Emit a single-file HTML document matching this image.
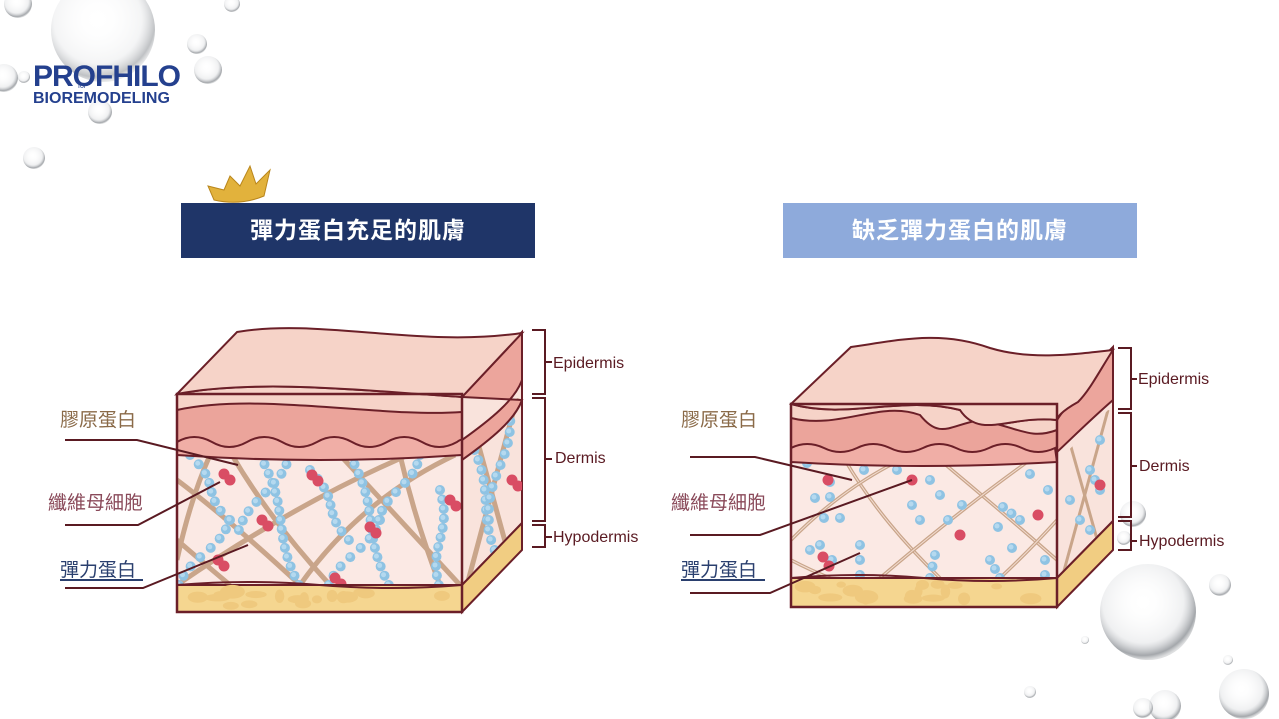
<!DOCTYPE html>
<html><head><meta charset="utf-8"><style>
html,body{margin:0;padding:0;background:#fff;}
body{width:1279px;height:719px;overflow:hidden;position:relative;font-family:"Liberation Sans","Noto Sans CJK TC",sans-serif;}
.t{position:absolute;white-space:nowrap;}
</style></head><body>
<svg id="s" width="1279" height="719" viewBox="0 0 1279 719" xmlns="http://www.w3.org/2000/svg" style="position:absolute;left:0;top:0">
<defs>
<radialGradient id="bub" cx="0.45" cy="0.4" r="0.6">
<stop offset="0" stop-color="#ffffff" stop-opacity="0"/><stop offset="0.7" stop-color="#d8dadd" stop-opacity="0.4"/><stop offset="0.92" stop-color="#8d9196" stop-opacity="0.8"/><stop offset="1" stop-color="#c8cacc" stop-opacity="0.6"/></radialGradient>
</defs>
<g id="bubbles">
<circle cx="103" cy="30" r="52" fill="url(#bub)" opacity="0.7"/>
<circle cx="18" cy="4" r="14" fill="url(#bub)"/>
<circle cx="197" cy="44" r="10" fill="url(#bub)"/>
<circle cx="208" cy="70" r="14" fill="url(#bub)"/>
<circle cx="232" cy="4" r="8" fill="url(#bub)"/>
<circle cx="4" cy="78" r="14" fill="url(#bub)"/>
<circle cx="24" cy="77" r="6" fill="url(#bub)"/>
<circle cx="100" cy="112" r="12" fill="url(#bub)"/>
<circle cx="34" cy="158" r="11" fill="url(#bub)"/>
<circle cx="1148" cy="612" r="48" fill="url(#bub)"/>
<circle cx="1133" cy="514" r="13" fill="url(#bub)"/>
<circle cx="1124" cy="538" r="7" fill="url(#bub)"/>
<circle cx="1220" cy="585" r="11" fill="url(#bub)"/>
<circle cx="1244" cy="694" r="25" fill="url(#bub)"/>
<circle cx="1165" cy="706" r="16" fill="url(#bub)"/>
<circle cx="1143" cy="708" r="10" fill="url(#bub)"/>
<circle cx="1030" cy="692" r="6" fill="url(#bub)"/>
<circle cx="1085" cy="640" r="4" fill="url(#bub)"/>
<circle cx="1228" cy="660" r="5" fill="url(#bub)"/>
</g>
<!-- crown -->
<g fill="#e2b23c" stroke="#b9861c" stroke-width="1">
<path d="M208,186 L224,190 L230,176 L240,186 L250,166 L256,184 L270,170 L264,196 Q240,206 214,200 Z"/>
</g>
<rect x="181" y="203" width="354" height="55" fill="#1f3568"/>
<rect x="783" y="203" width="354" height="55" fill="#8eaadb"/>
<g id="blocks"></g>
<g stroke="#5a1a22" stroke-width="2" fill="none">
<polyline points="65,440 137,440 238,465"/>
<polyline points="65,525 138,525 220,482"/>
<polyline points="65,588 143,588 248,545"/>
<polyline points="690,457 755,457 852,480"/>
<polyline points="690,535 760,535 912,480"/>
<polyline points="690,593 770,593 860,553"/>
<polyline points="532,330 545,330 545,394 532,394"/>
<polyline points="532,398 545,398 545,521 532,521"/>
<polyline points="532,525 545,525 545,547 532,547"/>
<line x1="545" y1="362" x2="552" y2="362"/><line x1="545" y1="459" x2="552" y2="459"/><line x1="545" y1="537" x2="552" y2="537"/>
<polyline points="1118,348 1131,348 1131,409 1118,409"/>
<polyline points="1118,413 1131,413 1131,517 1118,517"/>
<polyline points="1118,521 1131,521 1131,550 1118,550"/>
<line x1="1131" y1="379" x2="1137" y2="379"/><line x1="1131" y1="466" x2="1137" y2="466"/><line x1="1131" y1="541" x2="1137" y2="541"/>
</g>
<line x1="60" y1="580" x2="143" y2="580" stroke="#2a3f6e" stroke-width="2"/>
<line x1="681" y1="580" x2="765" y2="580" stroke="#2a3f6e" stroke-width="2"/>
</svg>

<div class="t" style="left:33px;top:60px;font-size:30px;font-weight:bold;color:#24408e;letter-spacing:-1px;">PROFHILO</div>
<div class="t" style="left:78px;top:83px;font-size:7px;color:#24408e;">for</div>
<div class="t" style="left:33px;top:90px;font-size:16px;font-weight:bold;color:#24408e;">BIOREMODELING</div>

<div class="t" style="left:181px;top:203px;width:354px;line-height:55px;text-align:center;color:#fff;font-size:23px;font-weight:bold;letter-spacing:1px;">彈力蛋白充足的肌膚</div>
<div class="t" style="left:783px;top:203px;width:354px;line-height:55px;text-align:center;color:#fff;font-size:23px;font-weight:bold;letter-spacing:1px;">缺乏彈力蛋白的肌膚</div>

<div class="t" style="left:60px;top:405px;font-size:19px;color:#8a6a48;">膠原蛋白</div>
<div class="t" style="left:48px;top:488px;font-size:19px;color:#8a4a5a;">纖維母細胞</div>
<div class="t" style="left:60px;top:555px;font-size:19px;color:#2a3f6e;">彈力蛋白</div>
<div class="t" style="left:681px;top:405px;font-size:19px;color:#8a6a48;">膠原蛋白</div>
<div class="t" style="left:671px;top:488px;font-size:19px;color:#8a4a5a;">纖維母細胞</div>
<div class="t" style="left:681px;top:555px;font-size:19px;color:#2a3f6e;">彈力蛋白</div>

<div class="t" style="left:553px;top:355px;font-size:16px;color:#5a1a22;">Epidermis</div>
<div class="t" style="left:555px;top:450px;font-size:16px;color:#5a1a22;">Dermis</div>
<div class="t" style="left:553px;top:529px;font-size:16px;color:#5a1a22;">Hypodermis</div>
<div class="t" style="left:1138px;top:371px;font-size:16px;color:#5a1a22;">Epidermis</div>
<div class="t" style="left:1139px;top:458px;font-size:16px;color:#5a1a22;">Dermis</div>
<div class="t" style="left:1139px;top:533px;font-size:16px;color:#5a1a22;">Hypodermis</div>

<script>
var NS="http://www.w3.org/2000/svg";
var G=document.getElementById("blocks");
function el(t,a,p){var e=document.createElementNS(NS,t);for(var k in a)e.setAttribute(k,a[k]);(p||G).appendChild(e);return e;}
var seed=7;function rnd(){seed=(seed*9301+49297)%233280;return seed/233280;}
function block(o,id){
 var L=o.L,R=o.R,T=o.T,B=o.B,H=o.H,dx=o.dx,dy=o.dy,W=o.W;
 var st="#6b1f28";
 var defs=el("defs",{});
 var cp=el("clipPath",{id:"c"+id},defs);
 el("rect",{x:L,y:W-10,width:R-L,height:H-W+10},cp);
 var cp2=el("clipPath",{id:"d"+id},defs);
 el("polygon",{points:[R,W,R+dx,W+dy,R+dx,H+dy,R,H].join(" ")},cp2);
 el("polygon",{points:[R,T,R+dx,T+dy,R+dx,H+dy,R,H].join(" "),fill:"#f9e3dc",stroke:st,"stroke-width":2});
 el("rect",{x:L,y:W,width:R-L,height:H-W,fill:"#fbe9e4"});
 var g=el("g",{"clip-path":"url(#c"+id+")"});
 var g2=el("g",{"clip-path":"url(#d"+id+")"});
 o.fibers.forEach(function(f){
  el("path",{d:"M"+f[0]+","+f[1]+" Q"+f[4]+","+f[5]+" "+f[2]+","+f[3],stroke:"#c9a58a","stroke-width":o.dense?5:3.5,fill:"none"},g);
  if(!o.dense)el("path",{d:"M"+f[0]+","+f[1]+" Q"+f[4]+","+f[5]+" "+f[2]+","+f[3],stroke:"#f3ddd2","stroke-width":1,fill:"none"},g);
 });
 [[R+5,W+dy+10,R+dx-5,H],[R+dx-5,W+dy+5,R+5,H]].forEach(function(f){
  el("line",{x1:f[0],y1:f[1],x2:f[2],y2:f[3],stroke:"#c9a58a","stroke-width":o.dense?5:3},g2);
 });
 o.chains.forEach(function(c){
  var n=c[4];for(var i=0;i<=n;i++){var t=n?i/n:0;var x=c[0]+(c[2]-c[0])*t+Math.sin(t*6)*(o.dense?4:0),y=c[1]+(c[3]-c[1])*t;
   el("circle",{cx:x,cy:y,r:5,fill:"#8fc3e3"},c[5]?g2:g);el("circle",{cx:x-1,cy:y-1,r:2.5,fill:"#b5d9ef"},c[5]?g2:g);}
 });
 o.reds.forEach(function(p){
  el("circle",{cx:p[0],cy:p[1],r:5.5,fill:"#d94d64"},p[2]?g2:g);
  if(o.dense)el("circle",{cx:p[0]+6,cy:p[1]+6,r:5.5,fill:"#d94d64"},p[2]?g2:g);
 });
 el("rect",{x:L,y:H,width:R-L,height:B-H,fill:"#f5d690",stroke:st,"stroke-width":2});
 for(var i=0;i<18;i++)el("ellipse",{cx:L+8+rnd()*(R-L-16),cy:H+6+rnd()*(B-H-12),rx:4+rnd()*9,ry:3+rnd()*4,fill:"#efc97e"});
 el("polygon",{points:[R,H,R+dx,H+dy,R+dx,H+dy+(B-H),R,B].join(" "),fill:"#f1cd82",stroke:st,"stroke-width":2});
 el("path",{d:"M"+L+","+H+" Q"+(L+(R-L)*0.25)+","+(H-6)+" "+(L+(R-L)*0.5)+","+H+" T"+R+","+H,stroke:st,"stroke-width":2,fill:"none"});
 el("path",{d:o.epiFront,fill:"#f6d3c8",stroke:st,"stroke-width":2});
 el("path",{d:o.pinkFront,fill:"#eba49b",stroke:st,"stroke-width":2});
 el("path",{d:o.waveFront,fill:"#f0aea6",stroke:st,"stroke-width":2});
 el("path",{d:o.side,fill:"#eca59c",stroke:st,"stroke-width":2});
 el("path",{d:o.top,fill:"#f6d3c8",stroke:st,"stroke-width":2});
 el("rect",{x:L,y:T,width:R-L,height:B-T,fill:"none",stroke:st,"stroke-width":2.5});
}
block({L:177,R:462,T:394,W:455,H:585,B:612,dx:60,dy:-62,dense:true,
 top:"M177,394 L237,332 C320,318 420,348 522,333 L462,397 C380,392 260,378 177,394 Z",
 epiFront:"M177,394 C260,378 380,392 462,397 L462,455 L177,455 Z",
 pinkFront:"M177,410 C260,392 380,418 462,412 L462,450 L177,450 Z",
 waveFront:"M177,442 q17,-10 35,0 q17,10 35,0 q17,-10 35,0 q17,10 35,0 q17,-10 35,0 q17,10 35,0 q17,-10 35,0 q17,10 35,0 q4,-3 5,-2 L462,455 Q320,465 177,455 Z",
 side:"M462,397 L522,333 L522,380 C515,400 490,420 462,440 L462,460 C490,440 515,420 522,400 L522,400 Z",
 fibers:[[177,480,300,585,230,520],[210,455,177,560,190,500],[232,455,330,585,270,520],[177,585,420,450,300,500],[340,455,460,585,400,520],[300,585,455,455,360,500],[400,455,440,585,415,520],[177,540,230,585,200,560]],
 chains:[[190,455,230,520,7],[230,520,180,585,7],[260,455,300,585,14],[290,455,240,530,8],[350,455,390,585,14],[380,520,330,585,7],[420,455,380,520,7],[440,490,440,585,10],[310,470,350,540,8],[470,440,500,560,12,1],[510,410,490,520,10,1]],
 reds:[[224,474],[262,520],[312,475],[335,578],[370,527],[450,500],[218,560],[512,480,1]]
},"a");
block({L:791,R:1057,T:404,B:607,H:578,W:462,dx:56,dy:-57,dense:false,
 top:"M791,404 L851,347 C900,340 940,330 990,348 C1030,360 1070,355 1113,350 C1100,370 1090,390 1078,402 C1060,412 1057,418 1057,420 C1010,415 980,440 960,410 C900,395 850,420 791,404 Z",
 epiFront:"M791,404 C850,420 900,395 960,410 C980,440 1010,415 1057,420 L1057,462 L791,462 Z",
 pinkFront:"M791,418 C840,430 880,400 920,415 C940,440 950,425 980,420 C1020,428 1030,440 1057,430 L1057,455 L791,455 Z",
 waveFront:"M791,448 q16,-8 33,0 q16,8 33,0 q16,-8 33,0 q16,8 33,0 q16,-8 33,0 q16,8 33,0 q16,-8 33,0 q16,8 33,0 L1057,462 Q920,470 791,462 Z",
 side:"M1057,420 C1070,400 1090,380 1113,350 L1113,400 C1090,420 1070,440 1057,452 Z",
 fibers:[[845,460,940,578,880,520],[791,540,900,460,840,490],[940,460,1057,560,1000,510],[880,578,1030,460,960,510],[791,560,830,578,810,570],[1000,578,1057,520,1030,550]],
 chains:[[807,463,807,463,0],[830,482,830,497,1],[815,498,815,498,0],[824,518,840,518,1],[864,470,864,470,0],[860,545,860,575,2],[897,470,897,470,0],[912,505,920,520,1],[930,480,940,495,1],[948,520,962,505,1],[998,527,998,527,0],[1003,507,1020,520,2],[1030,474,1030,474,0],[1048,490,1048,490,0],[990,560,1000,578,2],[832,560,832,560,0],[820,545,810,550,1],[935,555,930,578,2],[1045,560,1045,575,1],[1012,548,1012,548,0],[1090,470,1100,490,2,1],[1080,430,1100,440,1,1],[1080,520,1090,530,1,1],[1070,500,1070,500,0,1]],
 reds:[[828,480],[912,480],[1038,515],[960,535],[823,557],[829,566],[1100,485,1]]
},"b");
</script>
</body></html>
